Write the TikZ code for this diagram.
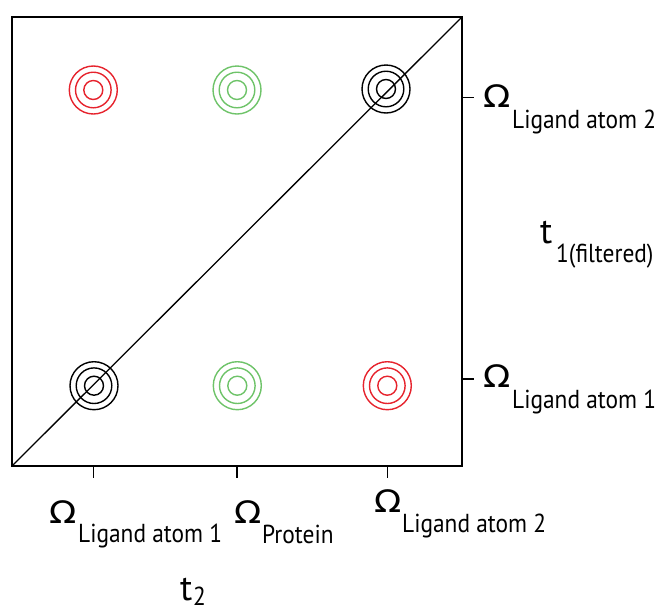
\documentclass[tikz,border=0pt]{standalone}
\usepackage{fontspec}
\newfontfamily\labfont{PT Sans}
\newfontfamily\omfont{DejaVu Sans}
\definecolor{peakred}{RGB}{230,35,45}
\definecolor{peakgreen}{RGB}{110,195,105}
\newcommand\narrow[1]{\scalebox{0.9}[1]{#1}}
\newcommand\wideomega{\scalebox{1.15}[1]{Ω}}
\begin{document}
\begin{tikzpicture}[x=1pt,y=-1pt,
  frame/.style={line width=1.5pt},
  tickmark/.style={line width=1.3pt},
  ring/.style={circle, draw, line width=1.4pt, inner sep=0pt, outer sep=0pt},
  omega/.style={anchor=base west, inner sep=0pt, font=\omfont\fontsize{31}{31}\selectfont},
  sublabel/.style={anchor=base west, inner sep=0pt, font=\labfont\fontsize{26}{26}\selectfont},
  axislabel/.style={anchor=base west, inner sep=0pt, font=\labfont\fontsize{36}{36}\selectfont},
]
\useasboundingbox (0,0) rectangle (656,611);

% spectrum frame and diagonal
\coordinate (bl) at (12,466);
\coordinate (tr) at (462,17);
\draw[frame] (12,17) rectangle (462,466);
\draw[line width=1.3pt] (bl) -- (tr);

% cross peaks and diagonal peaks, three contour rings each
\foreach \n/\x/\y/\c in {ul/93.3/90/peakred, um/237/90/peakgreen, ur/386/89/black,
                         ll/94/385.7/black, lm/237.3/385.7/peakgreen, lr/387.3/385.7/peakred} {
  \node[ring, draw=\c, minimum size=48pt]   (\n-a) at (\x,\y) {};
  \node[ring, draw=\c, minimum size=35.6pt] (\n-b) at (\x,\y) {};
  \node[ring, draw=\c, minimum size=19pt]   (\n-c) at (\x,\y) {};
}

% tick marks on the t2 axis
\foreach \n/\x in {b1/93.3, b2/237, b3/387.3} {
  \coordinate (\n) at (\x,466);
  \draw[tickmark] (\n) -- ++(0,12);
}
% tick marks on the t1 axis
\foreach \n/\y in {r1/379, r2/97.7} {
  \coordinate (\n) at (462,\y);
  \draw[tickmark] (\n) -- ++(12,0);
}

% chemical shift labels, right side
\node[omega]    (om-r2)  at (483,107) {\wideomega};
\node[sublabel] (sub-r2) at (512,128) {\narrow{Ligand atom 2}};
\node[omega]    (om-r1)  at (483,387) {\wideomega};
\node[sublabel] (sub-r1) at (512,408) {\narrow{Ligand atom 1}};

% chemical shift labels, bottom
\node[omega]    (om-b1)  at (49,523)  {\wideomega};
\node[sublabel] (sub-b1) at (78,542)  {\narrow{Ligand atom 1}};
\node[omega]    (om-b2)  at (234,523) {\wideomega};
\node[sublabel] (sub-b2) at (262,543) {\narrow{Protein}};
\node[omega]    (om-b3)  at (374,512) {\wideomega};
\node[sublabel] (sub-b3) at (402,532) {\narrow{Ligand atom 2}};

% time axes
\node[axislabel] (t1)     at (540,243) {t};
\node[sublabel]  (t1-sub) at (556,262) {\narrow{1(filtered)}};
\node[axislabel] (t2)     at (180,600) {t};
\node[sublabel]  (t2-sub) at (193,605) {\narrow{2}};
\end{tikzpicture}
\end{document}
